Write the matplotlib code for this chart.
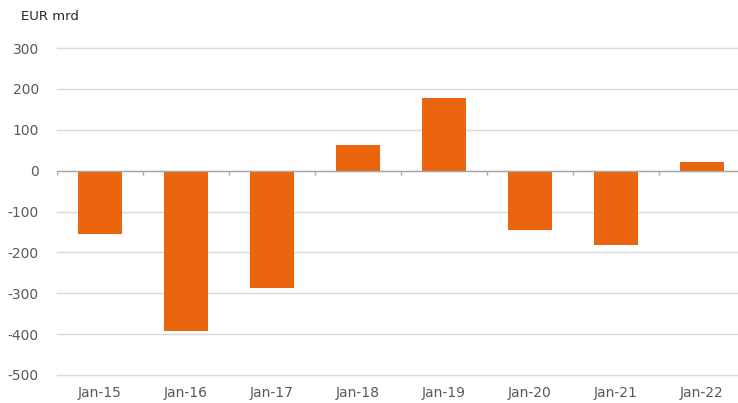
import matplotlib.pyplot as plt
import numpy as np

# Values (EUR bn)
categories = ["Jan-15", "Jan-16", "Jan-17", "Jan-18", "Jan-19", "Jan-20", "Jan-21", "Jan-22"]
values = [-154, -392, -286, 63, 178, -146, -182, 21]
yticks = [300, 200, 100, 0, -100, -200, -300, -400, -500]

plt.rcParams["font.family"] = "DejaVu Sans"

fig = plt.figure(figsize=(7.38, 4.03), dpi=100)
# axes runs a little past the right edge, as in the cropped original
ax = fig.add_axes([57 / 738, 28 / 403, 688 / 738, 327 / 403])

x = np.arange(len(categories))
ax.bar(x, values, width=0.52, color="#EA650D", zorder=3)

ax.set_ylim(-500, 300)
ax.set_xlim(-0.5, len(categories) - 0.5)
ax.set_yticks(yticks)
ax.set_yticklabels([str(v) for v in yticks])
ax.grid(axis="y", color="#d9d9d9", linewidth=1, zorder=0)
for gl in ax.get_ygridlines():
    gl.set_clip_on(False)
ax.axhline(0, color="#a6a6a6", linewidth=1, zorder=4)
# small category separators hanging off the zero line
ax.vlines(np.arange(len(categories) + 1) - 0.5, -10, 0, color="#a6a6a6", linewidth=1, zorder=4)

ax.set_xticks(x)
ax.set_xticklabels(categories)
for s in ax.spines.values():
    s.set_visible(False)
ax.tick_params(axis="both", length=0, colors="#595959", labelsize=10)
ax.tick_params(axis="y", pad=13)
ax.tick_params(axis="x", pad=8)

fig.text(21 / 738, 1 - 17 / 403, "EUR mrd", fontsize=9.5, color="#262626", va="center", ha="left")

fig.savefig("out.png", dpi=100)
